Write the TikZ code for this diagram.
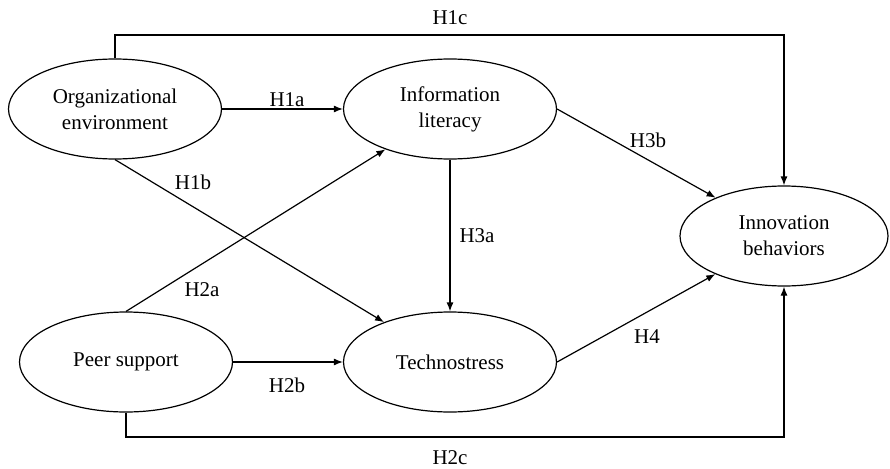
\documentclass[tikz,border=0pt]{standalone}
\usepackage{fontspec}
\setmainfont{Liberation Serif}
\usepackage{tikz}
\usetikzlibrary{shapes.geometric, arrows.meta, positioning, calc}

\begin{document}
\begin{tikzpicture}[
    x=1pt, y=-1pt,
    var/.style={ellipse, draw, line width=1.2pt, minimum width=213pt, minimum height=100pt, inner sep=0pt, align=center, font=\fontsize{21}{26}\selectfont},
    arr/.style={line width=1.2pt, -{Latex[length=9pt,width=7pt]}},
    hyp/.style={font=\fontsize{21}{26}\selectfont, inner sep=0pt},
]
    \useasboundingbox (0,0) rectangle (890,468);

    % constructs
    \node[var] (org) at (115,109) {Organizational\\environment};
    \node[var] (info) at (450,109) {Information\\literacy};
    \node[var] (peer) at (126,362) {Peer support};
    \node[var] (tech) at (450,362) {Technostress};
    \node[var, minimum width=208pt] (inn) at (784,236) {Innovation\\behaviors};

    \coordinate (top) at (0,35);
    \coordinate (bot) at (0,437);

    % paths
    \draw[arr] (org) -- (info);
    \draw[arr] (org.south) -- (tech);
    \draw[arr] (org.north) -- (org.north |- top) -| (inn.north);
    \draw[arr] (peer.north) -- (info);
    \draw[arr] (peer) -- (tech);
    \draw[arr] (peer.south) -- (peer.south |- bot) -| (inn.south);
    \draw[arr] (info) -- (tech);
    \draw[arr] (info.east) -- (inn);
    \draw[arr] (tech.east) -- (inn);

    % hypotheses
    \node[hyp] (h1a) at (287,100) {H1a};
    \node[hyp] (h1b) at (193,182) {H1b};
    \node[hyp] (h1c) at (450,18) {H1c};
    \node[hyp] (h2a) at (202,290) {H2a};
    \node[hyp] (h2b) at (287,385) {H2b};
    \node[hyp] (h2c) at (450,458) {H2c};
    \node[hyp] (h3a) at (477,236) {H3a};
    \node[hyp] (h3b) at (648,140) {H3b};
    \node[hyp] (h4) at (647,337) {H4};
\end{tikzpicture}
\end{document}
